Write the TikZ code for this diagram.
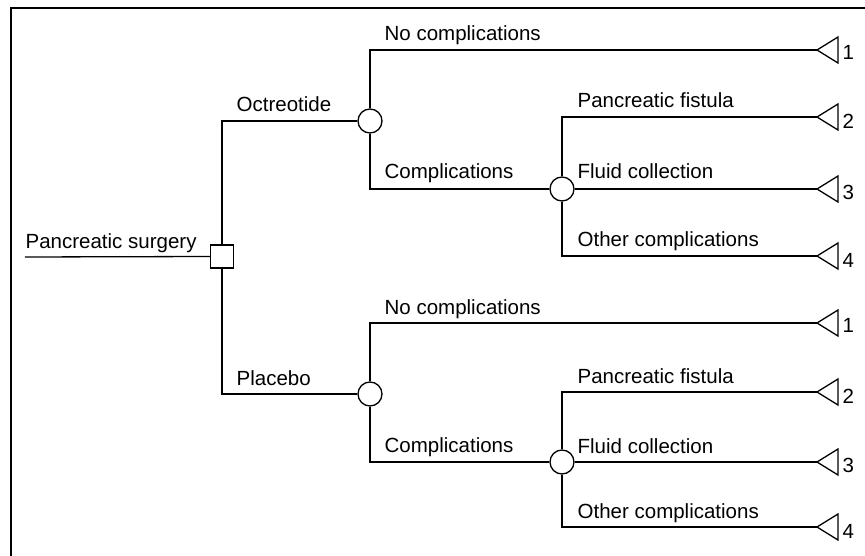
\documentclass[tikz,border=0pt]{standalone}
\usepackage{fontspec}
\setmainfont{Liberation Sans}
\begin{document}
\begin{tikzpicture}[x=1pt,y=-1pt,
  line width=1.3pt, line join=miter,
  decision/.style={draw, rectangle, minimum size=23pt, inner sep=0pt, fill=white},
  chance/.style={draw, circle, minimum size=24pt, inner sep=0pt, fill=white},
  lbl/.style={anchor=base west, inner sep=0pt, font=\fontsize{20.5}{24}\selectfont},
  num/.style={anchor=west, inner sep=0pt, font=\fontsize{20.5}{24}\selectfont},
  term/.style={line join=miter}]
\useasboundingbox (0,0) rectangle (865,556);
% frame
\draw[line width=2.6pt] (11,556) -- (11,8) -- (865,8);

% nodes
\node[decision] (dec) at (222,256.5) {};
\node[chance] (c1) at (370,121) {};
\node[chance] (c2) at (562,189) {};
\node[chance] (c3) at (370,394) {};
\node[chance] (c4) at (562,462) {};

\coordinate (start) at (25,257);
\foreach \n/\y in {1/50,2/117,3/189,4/256,5/323,6/392,7/462,8/527}{
  \coordinate (t\n) at (817,\y);
  \draw[term] (t\n) -- ++(21,-13) -- ++(0,26) -- cycle;
}
\node[num] (n1) at (842,52) {1};
\node[num] (n2) at (842,121) {2};
\node[num] (n3) at (842,192) {3};
\node[num] (n4) at (842,260) {4};
\node[num] (n5) at (842,325) {1};
\node[num] (n6) at (842,396) {2};
\node[num] (n7) at (842,465) {3};
\node[num] (n8) at (842,531) {4};

% connectors
\draw (start) -- (dec.west);
\draw (dec.north) |- (c1.west);
\draw (dec.south) |- (c3.west);
\draw (c1.north) |- (t1);
\draw (c1.south) |- (c2.west);
\draw (c2.north) |- (t2);
\draw (c2.east) -- (t3);
\draw (c2.south) |- (t4);
\draw (c3.north) |- (t5);
\draw (c3.south) |- (c4.west);
\draw (c4.north) |- (t6);
\draw (c4.east) -- (t7);
\draw (c4.south) |- (t8);

% labels
\node[lbl] (lps) at (25,248) {Pancreatic surgery};
\node[lbl] (loc) at (236,112) {Octreotide};
\node[lbl] (lpl) at (236,385) {Placebo};
\node[lbl] (lnc1) at (384,41) {No complications};
\node[lbl] (lco1) at (384,179) {Complications};
\node[lbl] (lpf1) at (577,108) {Pancreatic fistula};
\node[lbl] (lfc1) at (577,179) {Fluid collection};
\node[lbl] (loc1) at (577,247) {Other complications};
\node[lbl] (lnc2) at (384,314) {No complications};
\node[lbl] (lco2) at (384,452) {Complications};
\node[lbl] (lpf2) at (577,383) {Pancreatic fistula};
\node[lbl] (lfc2) at (577,453) {Fluid collection};
\node[lbl] (loc2) at (577,518) {Other complications};
\end{tikzpicture}
\end{document}
